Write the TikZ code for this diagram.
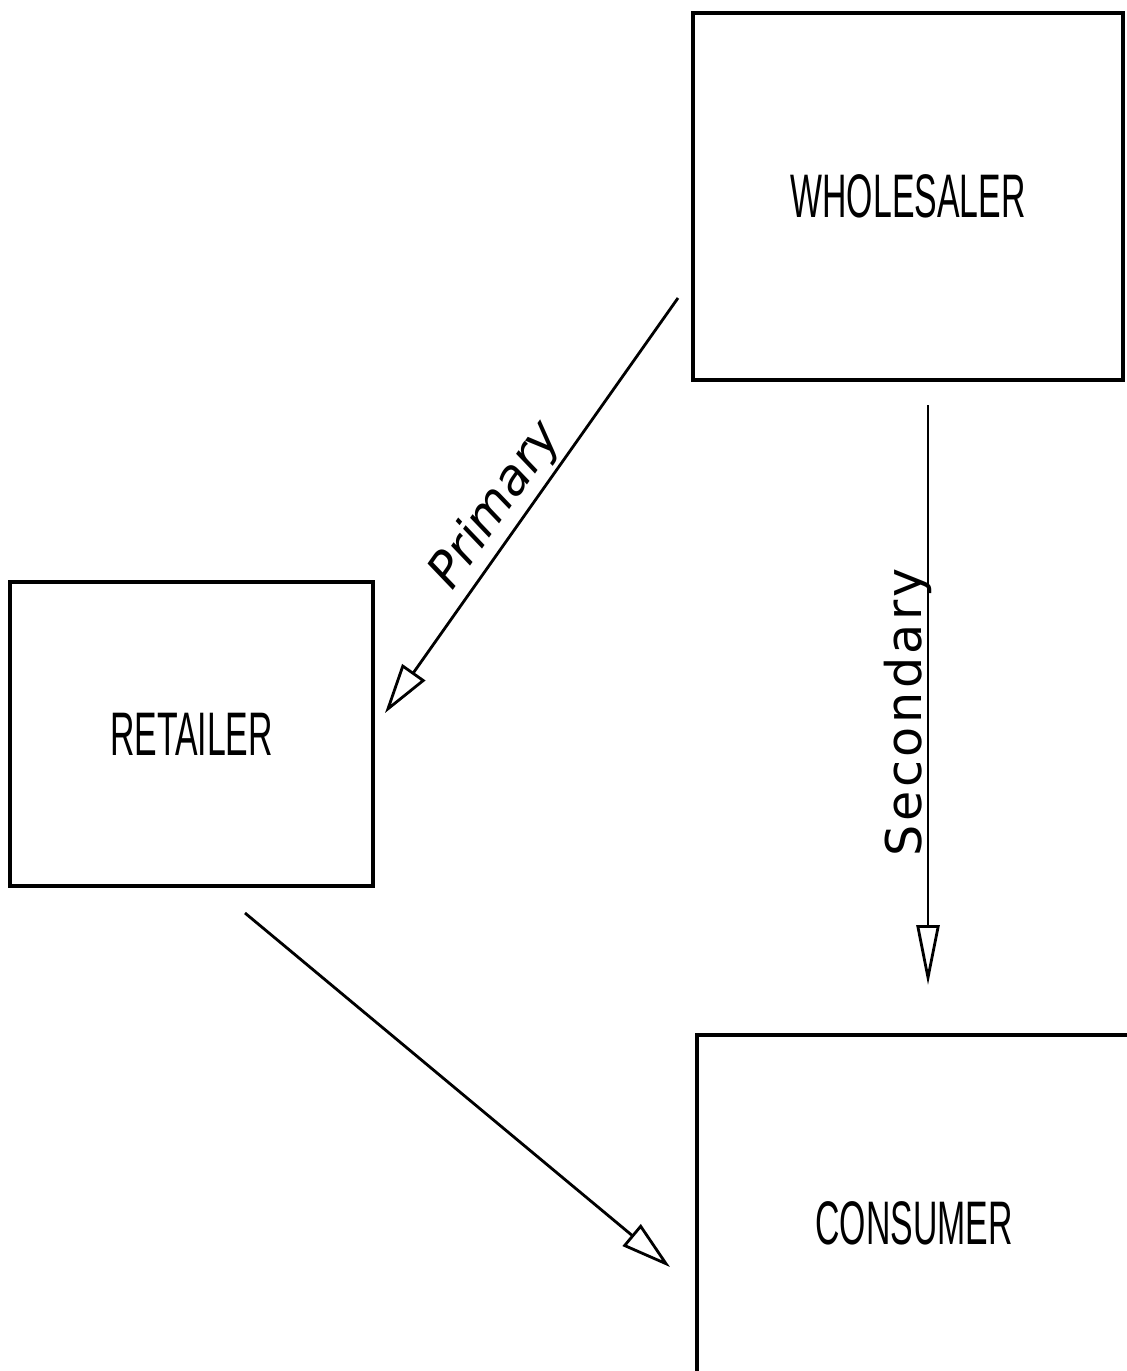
\documentclass[tikz,border=0pt]{standalone}
\usepackage{fontspec}
\usepackage{tikz}
\usetikzlibrary{arrows.meta}
\newfontfamily\boxfont[FakeStretch=0.55]{Liberation Sans}
\newfontfamily\flowfont[LetterSpace=7]{DejaVu Sans}

\begin{document}
\begin{tikzpicture}[x=1cm,y=1cm,
  party/.style={draw,rectangle,line width=0.9pt,font=\boxfont\fontsize{17.5}{20}\selectfont},
  flow/.style={line width=0.8pt,-{Triangle[open,length=5mm,width=2.8mm]}},
  tag/.style={font=\flowfont\fontsize{14}{16}\selectfont,inner sep=1pt}]
  \useasboundingbox (0,0) rectangle (11.27,-13.71);
  \clip (0,0) rectangle (11.27,-13.71);

  \node[party,minimum width=4.30cm,minimum height=3.67cm] (wholesaler) at (9.08,-1.965) {WHOLESALER};
  \node[party,minimum width=3.63cm,minimum height=3.04cm] (retailer) at (1.915,-7.34) {RETAILER};
  \node[party,minimum width=4.34cm,minimum height=3.76cm] (consumer) at (9.14,-12.23) {CONSUMER};

  \coordinate (p1) at (6.78,-2.98);  \coordinate (p2) at (3.85,-7.13);
  \coordinate (s1) at (9.28,-4.05);  \coordinate (s2) at (9.28,-9.85);
  \coordinate (c1) at (2.45,-9.13);  \coordinate (c2) at (6.70,-12.67);

  \draw[flow] (p1) -- (p2) node[tag,pos=0.54,sloped,above,font=\flowfont\fontsize{14}{16}\selectfont\itshape\addfontfeature{LetterSpace=0}]{Primary};
  \draw[flow,-{Triangle[open,length=6mm,width=2.3mm]}] (s1) -- (s2);
  \node[tag,rotate=90,anchor=base,inner sep=0pt] (sec) at (9.215,-7.12) {Secondary};
  \draw[flow] (c1) -- (c2);
\end{tikzpicture}
\end{document}
